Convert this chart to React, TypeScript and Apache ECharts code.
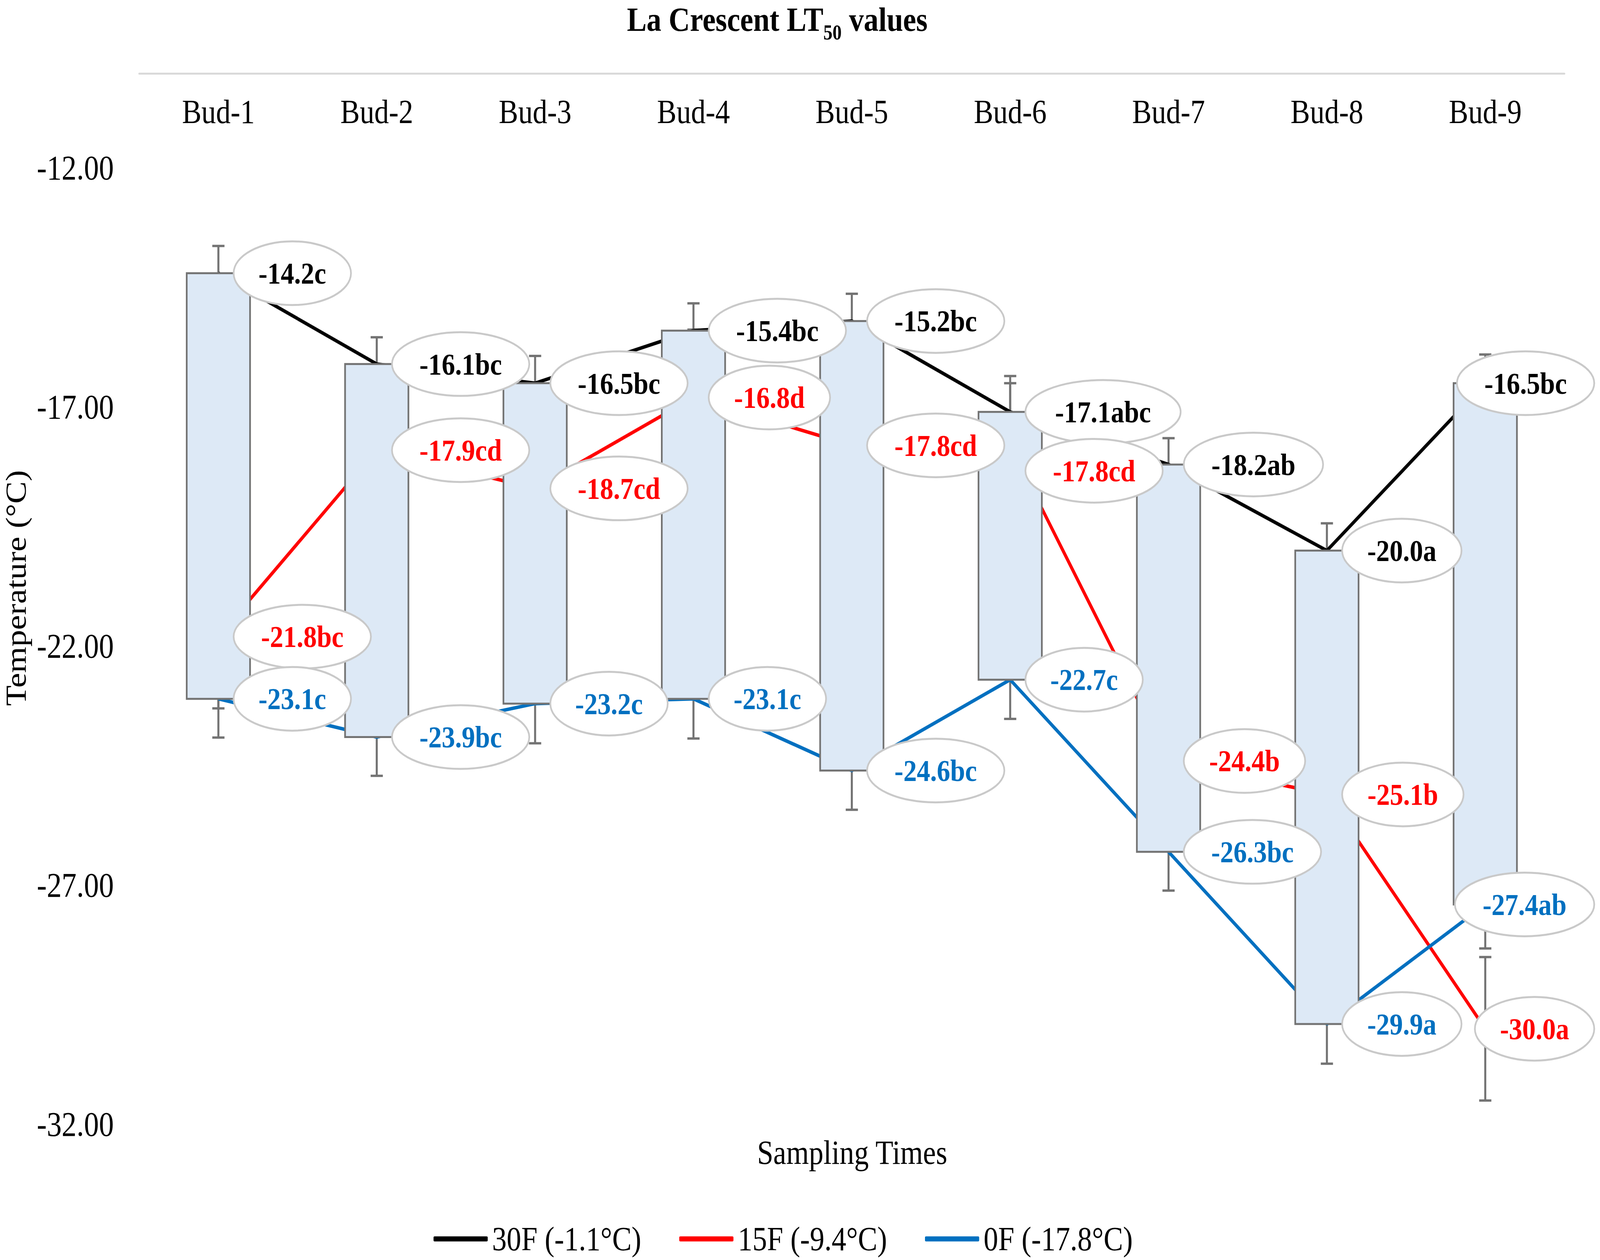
import React, { useEffect, useRef } from 'react';
import * as echarts from 'echarts';

// ---------- data ----------
const categories = ['Bud-1', 'Bud-2', 'Bud-3', 'Bud-4', 'Bud-5', 'Bud-6', 'Bud-7', 'Bud-8', 'Bud-9'];
const seriesNames = ['30F (-1.1°C)', '15F (-9.4°C)', '0F (-17.8°C)'];
const t30 = [-14.2, -16.1, -16.5, -15.4, -15.2, -17.1, -18.2, -20.0, -16.5];
const t15 = [-21.8, -17.9, -18.7, -16.8, -17.8, -17.8, -24.4, -25.1, -30.0];
const t0 = [-23.1, -23.9, -23.2, -23.1, -24.6, -22.7, -26.3, -29.9, -27.4];
const letters30 = ['c', 'bc', 'bc', 'bc', 'bc', 'abc', 'ab', 'a', 'bc'];
const letters15 = ['bc', 'cd', 'cd', 'd', 'cd', 'cd', 'b', 'b', 'a'];
const letters0 = ['c', 'bc', 'c', 'c', 'bc', 'c', 'bc', 'a', 'ab'];
const err30 = [0.57, 0.56, 0.57, 0.57, 0.57, 0.6, 0.55, 0.57, 0.6];
const err15 = [1.5, 1.4, 1.4, 1.42, 1.4, 1.45, 1.4, 1.4, 1.5];
const err0 = [0.81, 0.81, 0.83, 0.83, 0.82, 0.82, 0.81, 0.83, 0.92];
const yMin = -32;
const yMax = -12;
const yInterval = 5;

// ---------- styling ----------
const W = 4724;
const H = 3225;
const FONT = '"Liberation Serif", "Times New Roman", serif';
const colors = ['#000000', '#ff0000', '#0070c0'];
const GRAY = '#737373';
// label placement tweak (series index - category index -> extra px downwards)
const labelNudgeY: Record<string, number> = { '1-5': 65 };

const allValues = [t30, t15, t0];
const allLetters = [letters30, letters15, letters0];
const allErr = [err30, err15, err0];

const errorData: number[][] = [];
allValues.forEach((vals, s) => vals.forEach((v, i) => errorData.push([i, v, allErr[s][i]])));

const boxData = categories.map((_, i) => [i, t30[i], t0[i]]);

const labelItems: { value: number[]; text: string; color: string; key: string }[] = [];
allValues.forEach((vals, s) =>
  vals.forEach((v, i) =>
    labelItems.push({ value: [i, v], text: v.toFixed(1) + allLetters[s][i], color: colors[s], key: s + '-' + i })
  )
);

let measureCtx: CanvasRenderingContext2D | null = null;
function measure(text: string, font: string): number {
  if (!measureCtx) measureCtx = document.createElement('canvas').getContext('2d');
  if (!measureCtx) return text.length * 40;
  measureCtx.font = font;
  return measureCtx.measureText(text).width;
}

const LABEL_FS = 79;

const option: any = {
  animation: false,
  backgroundColor: '#ffffff',
  title: {
    text: '{a|La Crescent LT}{b|50}{a| values}',
    left: 1851,
    top: 6,
    padding: 0,
    textStyle: {
      rich: {
        a: { fontFamily: FONT, fontWeight: 'bold', fontSize: 87, lineHeight: 104, verticalAlign: 'top', color: '#000' },
        b: { fontFamily: FONT, fontWeight: 'bold', fontSize: 54, lineHeight: 104, verticalAlign: 'bottom', color: '#000' },
      },
    },
  },
  legend: {
    data: seriesNames,
    left: 1275,
    top: 3123,
    itemWidth: 160,
    itemHeight: 13,
    itemGap: 112,
    icon: 'roundRect',
    textStyle: { fontFamily: FONT, fontSize: 86, color: '#000', padding: [0, 0, 0, 8] },
  },
  grid: { left: 411, right: 105, top: 430, bottom: 347 },
  xAxis: {
    type: 'category',
    data: categories,
    position: 'top',
    offset: 242,
    boundaryGap: true,
    axisLine: { show: true, lineStyle: { color: '#d9d9d9', width: 5 } },
    axisTick: { show: false },
    splitLine: { show: false },
    axisLabel: { inside: true, margin: 55, fontFamily: FONT, fontSize: 86, color: '#000' },
  },
  yAxis: {
    type: 'value',
    min: yMin,
    max: yMax,
    interval: yInterval,
    axisLine: { show: false },
    axisTick: { show: false },
    splitLine: { show: false },
    axisLabel: {
      margin: 75,
      fontFamily: FONT,
      fontSize: 88,
      color: '#000',
      formatter: (v: number) => v.toFixed(2),
    },
  },
  graphic: [
    {
      type: 'text',
      x: 47,
      y: 1505,
      rotation: Math.PI / 2,
      style: {
        text: 'Temperature (°C)',
        fontFamily: FONT,
        fontSize: 86,
        fill: '#000',
        align: 'center',
        verticalAlign: 'middle',
      },
    },
    {
      type: 'text',
      x: 2516,
      y: 2950,
      style: {
        text: 'Sampling Times',
        fontFamily: FONT,
        fontSize: 86,
        fill: '#000',
        align: 'center',
        verticalAlign: 'middle',
      },
    },
  ],
  series: [
    {
      type: 'custom',
      name: 'errors',
      z: 1,
      clip: false,
      data: errorData,
      encode: { x: 0, y: 1 },
      renderItem: (params: any, api: any) => {
        const x = api.value(0);
        const v = api.value(1);
        const e = api.value(2);
        const p1 = api.coord([x, v + e]);
        const p2 = api.coord([x, v - e]);
        const cx = p1[0];
        const cap = 18;
        const st = { stroke: GRAY, lineWidth: 6 };
        return {
          type: 'group',
          children: [
            { type: 'line', shape: { x1: cx, y1: p1[1], x2: cx, y2: p2[1] }, style: st },
            { type: 'line', shape: { x1: cx - cap, y1: p1[1], x2: cx + cap, y2: p1[1] }, style: st },
            { type: 'line', shape: { x1: cx - cap, y1: p2[1], x2: cx + cap, y2: p2[1] }, style: st },
          ],
        };
      },
    },
    ...allValues.map((vals, s) => ({
      type: 'line',
      name: seriesNames[s],
      data: vals,
      z: 2,
      symbol: 'none',
      color: colors[s],
      itemStyle: { color: colors[s] },
      lineStyle: { color: colors[s], width: 9 },
    })),
    {
      type: 'custom',
      name: 'updown',
      z: 3,
      clip: false,
      data: boxData,
      encode: { x: 0, y: [1, 2] },
      renderItem: (params: any, api: any) => {
        const x = api.value(0);
        const a = api.coord([x, api.value(1)]);
        const b = api.coord([x, api.value(2)]);
        const w = api.size([1, 0])[0] * 0.4;
        return {
          type: 'rect',
          shape: { x: a[0] - w / 2, y: Math.min(a[1], b[1]), width: w, height: Math.abs(b[1] - a[1]) },
          style: { fill: '#dde9f6', stroke: GRAY, lineWidth: 5 },
        };
      },
    },
    {
      type: 'custom',
      name: 'labels',
      z: 4,
      clip: false,
      data: labelItems.map((d) => d.value),
      encode: { x: 0, y: 1 },
      renderItem: (params: any, api: any) => {
        const item = labelItems[params.dataIndex];
        const pt = api.coord([api.value(0), api.value(1)]);
        const tw = measure(item.text, `bold ${LABEL_FS}px ${FONT}`);
        const w = 1.34 * tw + 79;
        const h = 163;
        const cs = params.coordSys;
        const rightLimit = cs.x + cs.width + 88;
        let cx = pt[0] + 45 + w / 2;
        if (cx + w / 2 > rightLimit) cx = rightLimit - w / 2;
        const cy = pt[1] + (labelNudgeY[item.key] || 0);
        return {
          type: 'group',
          children: [
            {
              type: 'ellipse',
              shape: { cx, cy, rx: w / 2, ry: h / 2 },
              style: { fill: '#ffffff', stroke: '#c9c9c9', lineWidth: 5 },
            },
            {
              type: 'text',
              x: cx,
              y: cy,
              style: {
                text: item.text,
                fontFamily: FONT,
                fontWeight: 'bold',
                fontSize: LABEL_FS,
                fill: item.color,
                align: 'center',
                verticalAlign: 'middle',
              },
            },
          ],
        };
      },
    },
  ],
};

export default function App() {
  const ref = useRef<HTMLDivElement>(null);
  useEffect(() => {
    document.body.style.margin = '0';
    const el = ref.current;
    if (!el) return;
    const sx = (window.innerWidth || W) / W;
    const sy = (window.innerHeight || H) / H;
    el.style.transform = `scale(${sx}, ${sy})`;
    const chart = echarts.init(el, null, { renderer: 'svg' });
    chart.setOption(option);
    return () => chart.dispose();
  }, []);
  return (
    <div style={{ position: 'fixed', left: 0, top: 0, width: '100vw', height: '100vh', overflow: 'hidden', background: '#fff' }}>
      <div ref={ref} style={{ width: W, height: H, transformOrigin: '0 0', background: '#fff' }} />
    </div>
  );
}
